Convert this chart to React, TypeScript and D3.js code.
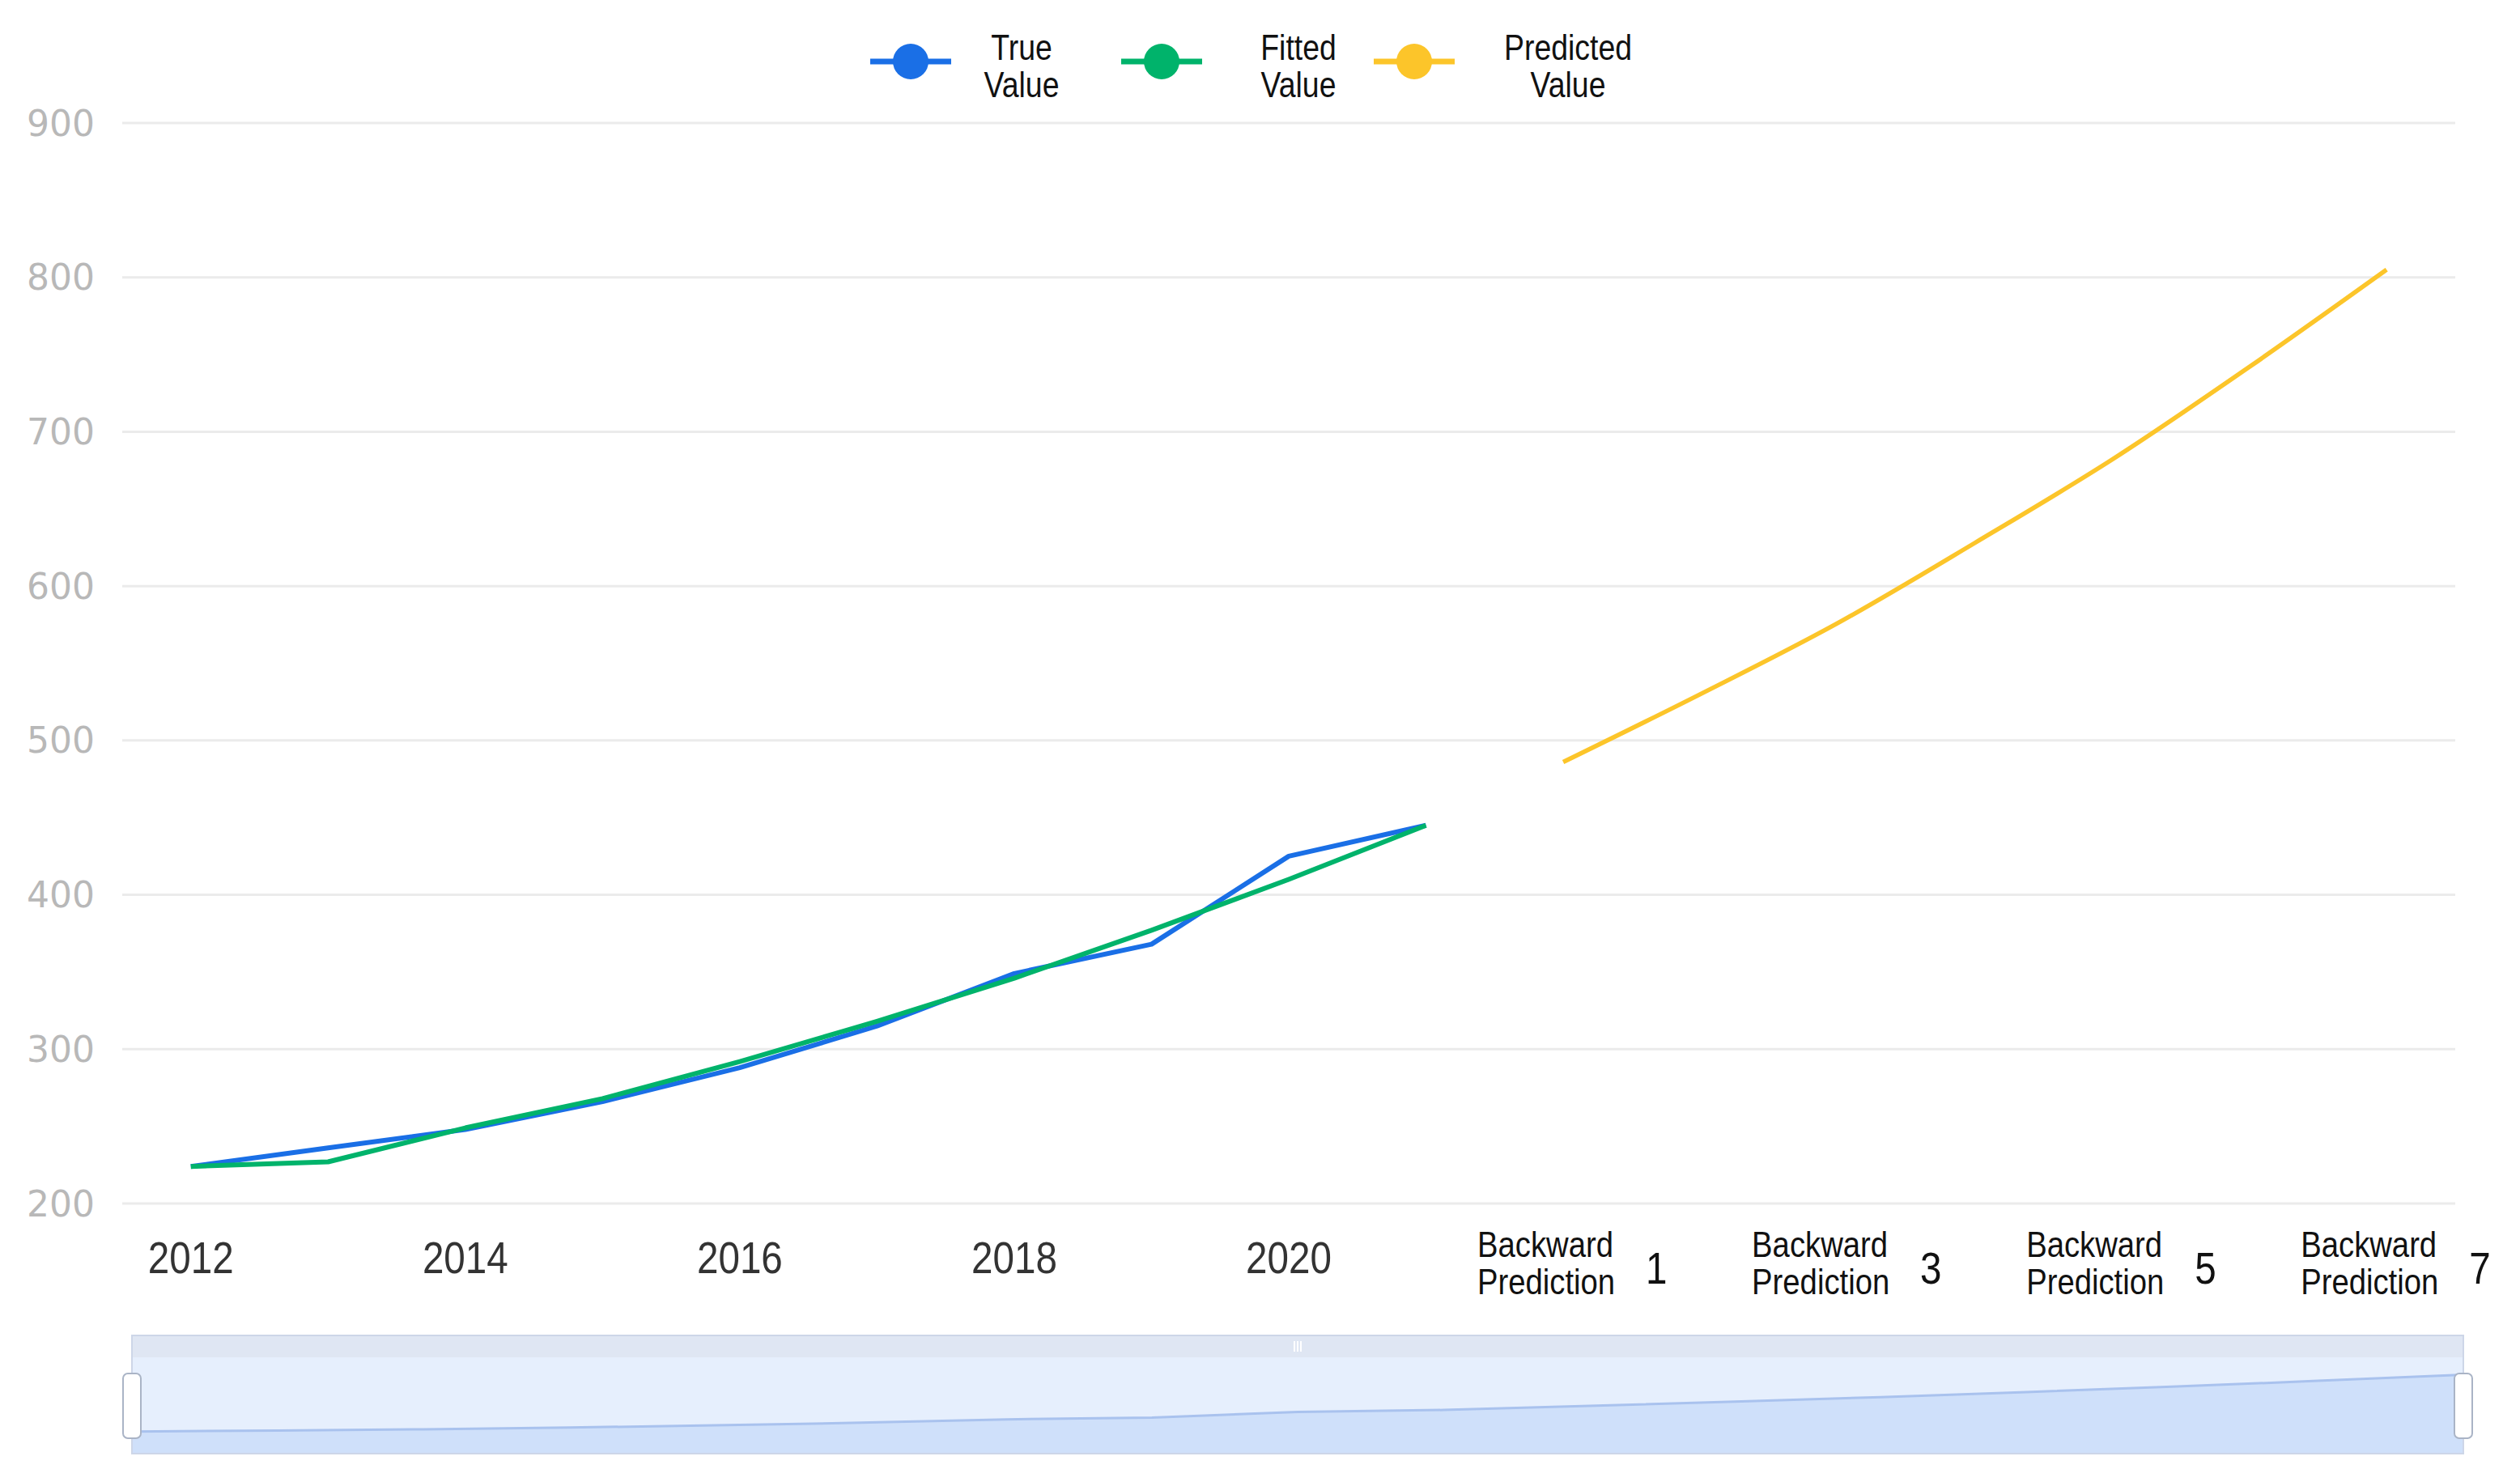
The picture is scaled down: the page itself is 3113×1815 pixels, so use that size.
import { useMemo } from 'react';
import * as d3 from 'd3';

const years = ['2012', '2013', '2014', '2015', '2016', '2017', '2018', '2019', '2020', '2021'];
const backwardSteps = ['1', '2', '3', '4', '5', '6', '7'];
const trueValues = [224, 236, 248, 266, 288, 315, 349, 368, 425, 445];
const fittedValues = [224, 227, 249, 268, 292, 318, 346, 377, 410, 445];
const predictedValues = [486, 530, 576, 628, 682, 742, 805];
const yTicks = [200, 300, 400, 500, 600, 700, 800, 900];
const legendNames = [['True', 'Value'], ['Fitted', 'Value'], ['Predicted', 'Value']];

const W = 3113;
const H = 1815;
const COLORS = ['#1a6fe6', '#00b36b', '#fcc52a'];
const FONT = '"Liberation Sans", Arial, sans-serif';

// condensed text: regular sans squeezed horizontally
function NText({ x, y, size, anchor = 'start', squeeze = 0.85, fill = '#111', children }) {
    return (
        <g transform={`translate(${x},${y}) scale(${squeeze},1)`}>
            <text x={0} y={0} textAnchor={anchor} fontFamily={FONT} fontSize={size} fill={fill}>{children}</text>
        </g>
    );
}

export default function App() {
    const margin = { t: 152, r: 80, b: 328, l: 151 };

    const categories = useMemo(
        () => [...years, ...backwardSteps.map(s => `Backward Prediction ${s}`)],
        []
    );

    const x = d3.scaleBand()
        .domain(categories)
        .range([margin.l, W - margin.r])
        .paddingInner(0)
        .paddingOuter(0);
    const cx = (c) => x(c) + x.bandwidth() / 2;

    const y = d3.scaleLinear()
        .domain([200, 900])
        .range([H - margin.b, margin.t]);

    const line = d3.line()
        .x(d => cx(d.c))
        .y(d => y(d.v));
    const smooth = d3.line()
        .x(d => cx(d.c))
        .y(d => y(d.v))
        .curve(d3.curveMonotoneX);

    const trueData = trueValues.map((v, i) => ({ c: years[i], v }));
    const fittedData = fittedValues.map((v, i) => ({ c: years[i], v }));
    const predData = predictedValues.map((v, i) => ({ c: `Backward Prediction ${backwardSteps[i]}`, v }));

    // data zoom slider
    const sl = { x0: 163, x1: 3043, top: 1650, barH: 27, bottom: 1796 };
    const shadowValues = [...trueValues, ...predictedValues];
    const sx = d3.scaleLinear().domain([0, shadowValues.length - 1]).range([sl.x0, sl.x1]);
    const sy = d3.scaleLinear()
        .domain([0, d3.max(shadowValues) * 1.22])
        .range([sl.bottom, sl.top + sl.barH]);
    const shadowArea = d3.area()
        .x((d, i) => sx(i))
        .y0(sl.bottom)
        .y1(d => sy(d));
    const shadowLine = d3.line()
        .x((d, i) => sx(i))
        .y(d => sy(d));

    const legendIcons = [1125, 1435, 1747];
    const legendText = [1262, 1604, 1937];

    return (
        <svg width={W} height={H} style={{ position: 'absolute', left: 0, top: 0, background: '#fff' }}>
            {/* grid */}
            {yTicks.map(t => (
                <g key={t}>
                    <line x1={margin.l} x2={W - margin.r} y1={y(t)} y2={y(t)} stroke="#ebebeb" strokeWidth={3} />
                    <text x={117} y={y(t)} textAnchor="end" dominantBaseline="central"
                        fontFamily="DejaVu Sans, sans-serif" fontSize={44} fill="#b8b8b8">{t}</text>
                </g>
            ))}

            {/* x labels */}
            {categories.map((c, i) => {
                if (i % 2 !== 0) return null;
                if (i < years.length) {
                    return (
                        <NText key={c} x={cx(c)} y={1573} size={56} anchor="middle" fill="#333">{c}</NText>
                    );
                }
                const step = backwardSteps[i - years.length];
                const left = cx(c) - 106;
                return (
                    <g key={c}>
                        <NText x={left} y={1553} size={45}>Backward</NText>
                        <NText x={left} y={1599} size={45}>Prediction</NText>
                        <NText x={left + 208} y={1586} size={56}>{step}</NText>
                    </g>
                );
            })}

            {/* series */}
            <path d={line(trueData)} fill="none" stroke={COLORS[0]} strokeWidth={6} strokeLinejoin="round" />
            <path d={line(fittedData)} fill="none" stroke={COLORS[1]} strokeWidth={6} strokeLinejoin="round" />
            <path d={smooth(predData)} fill="none" stroke={COLORS[2]} strokeWidth={5.5} strokeLinejoin="round" />

            {/* legend */}
            {legendNames.map((n, i) => (
                <g key={n[0]}>
                    <line x1={legendIcons[i] - 50} x2={legendIcons[i] + 50} y1={76} y2={76} stroke={COLORS[i]} strokeWidth={7} />
                    <circle cx={legendIcons[i]} cy={76} r={22} fill={COLORS[i]} />
                    <NText x={legendText[i]} y={74} size={44} anchor="middle">{n[0]}</NText>
                    <NText x={legendText[i]} y={120} size={44} anchor="middle">{n[1]}</NText>
                </g>
            ))}

            {/* data zoom */}
            <rect x={sl.x0} y={sl.top} width={sl.x1 - sl.x0} height={sl.barH} fill="#dfe6f3" />
            <rect x={sl.x0} y={sl.top + sl.barH} width={sl.x1 - sl.x0} height={sl.bottom - sl.top - sl.barH} fill="#e6effd" />
            <path d={shadowArea(shadowValues)} fill="#cfe0fa" />
            <path d={shadowLine(shadowValues)} fill="none" stroke="#a9c2ee" strokeWidth={3} />
            <rect x={sl.x0} y={sl.top} width={sl.x1 - sl.x0} height={sl.bottom - sl.top} fill="none" stroke="#cdd6e8" strokeWidth={2} />
            {[-4, 0, 4].map(d => (
                <line key={d} x1={(sl.x0 + sl.x1) / 2 + d} x2={(sl.x0 + sl.x1) / 2 + d} y1={sl.top + 7} y2={sl.top + 20} stroke="#fff" strokeWidth={2} />
            ))}
            {[sl.x0, sl.x1].map(hx => (
                <rect key={hx} x={hx - 11} y={1697} width={22} height={80} rx={6} fill="#fff" stroke="#aab4c6" strokeWidth={2} />
            ))}
        </svg>
    );
}
